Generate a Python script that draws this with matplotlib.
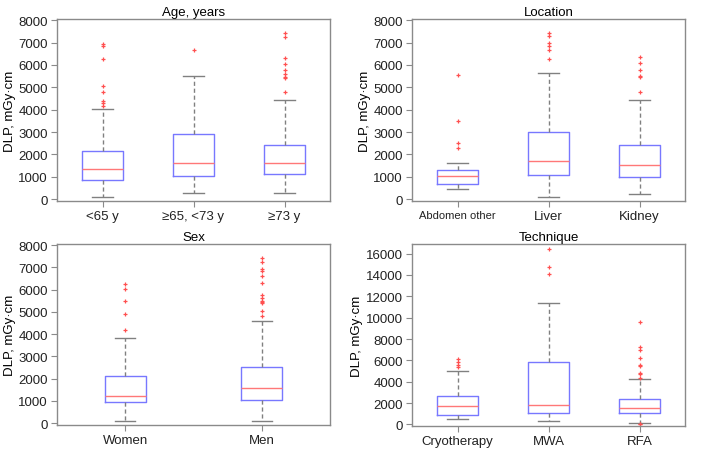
import matplotlib
matplotlib.use("Agg")
import matplotlib.pyplot as plt

plt.rcParams['font.family'] = ['Liberation Sans', 'DejaVu Sans']

# ---- Data ----
age_labels = ["<65 y", "\u226565, <73 y", "\u226573 y"]
age_q1 = [863, 1057, 1116]
age_med = [1369, 1607, 1607]
age_q3 = [2143, 2917, 2440]
age_lo = [89, 268, 268]
age_hi = [4018, 5521, 4449]
age_fliers = [
    [6950, 6850, 6250, 5050, 4780, 4380, 4300, 4180],
    [6650],
    [7440, 7232, 6310, 6057, 5774, 5610, 5476, 5402, 4807],
]

loc_labels = ["Abdomen other", "Liver", "Kidney"]
loc_q1 = [699, 1071, 982]
loc_med = [1042, 1696, 1518]
loc_q3 = [1324, 2991, 2426]
loc_lo = [446, 89, 223]
loc_hi = [1607, 5625, 4435]
loc_fliers = [
    [5536, 3482, 2500, 2292],
    [7440, 7277, 6994, 6845, 6667, 6280],
    [6339, 6071, 5789, 5521, 5476, 4807],
]

sex_labels = ["Women", "Men"]
sex_q1 = [963, 1052]
sex_med = [1244, 1600]
sex_q3 = [2133, 2519]
sex_lo = [104, 119]
sex_hi = [3850, 4607]
sex_fliers = [
    [6252, 6044, 5496, 4904, 4207],
    [7407, 7244, 6948, 6815, 6622, 6296, 5763, 5644, 5511, 5452, 5393, 5037, 4800],
]

tech_labels = ["Cryotherapy", "MWA", "RFA"]
tech_q1 = [840, 1027, 1027]
tech_med = [1681, 1774, 1525]
tech_q3 = [2615, 5852, 2335]
tech_lo = [467, 311, 125]
tech_hi = [5043, 11331, 4233]
tech_fliers = [
    [6101, 5852, 5541, 5416],
    [16436, 14755, 14101],
    [9619, 7253, 6973, 6257, 5603, 5447, 4856, 4731, 4389, 60, 30],
]

BOX_C = "#7878ff"
MED_C = "#ff7878"
WH_C = "#808080"
SPINE_C = "#8a8a8a"


def draw(ax, title, labels, q1, med, q3, lo, hi, fl, width, ylim, yticks, lab_fs=None):
    stats = []
    for i in range(len(labels)):
        stats.append(dict(med=med[i], q1=q1[i], q3=q3[i], whislo=lo[i], whishi=hi[i],
                          fliers=fl[i], label=labels[i]))
    ax.bxp(stats, positions=list(range(1, len(labels) + 1)), widths=width,
           showfliers=True,
           boxprops=dict(color=BOX_C, linewidth=1.0),
           medianprops=dict(color=MED_C, linewidth=1.0),
           whiskerprops=dict(color=WH_C, linestyle=(0, (3, 2)), linewidth=1.0),
           capprops=dict(color=WH_C, linewidth=1.0),
           capwidths=width / 2,
           flierprops=dict(marker='+', markeredgecolor='#ff5050', markersize=3.5,
                           markeredgewidth=0.9, linestyle='none'))
    ax.set_xlim(0.5, len(labels) + 0.5)
    ax.set_ylim(*ylim)
    ax.set_yticks(yticks)
    ax.set_title(title, fontsize=9.5, pad=3)
    ax.set_ylabel("DLP, mGy\u00b7cm", fontsize=9.5, labelpad=2)
    for s in ax.spines.values():
        s.set_color(SPINE_C)
        s.set_linewidth(1.0)
    ax.tick_params(axis='both', colors=SPINE_C, labelcolor='#222222', labelsize=9.5,
                   length=4, direction='out', pad=2.5)
    if lab_fs is not None:
        ax.get_xticklabels()[0].set_fontsize(lab_fs)


fig = plt.figure(figsize=(7.11, 4.52), dpi=100)
W, H = 711, 452
ax1 = fig.add_axes([57 / W, 1 - 202 / H, 273 / W, 182 / H])
ax2 = fig.add_axes([412 / W, 1 - 202 / H, 273 / W, 182 / H])
ax3 = fig.add_axes([57 / W, 1 - 426 / H, 273 / W, 181 / H])
ax4 = fig.add_axes([412 / W, 1 - 427 / H, 273 / W, 182 / H])

ylim8 = (-80, 8050)
t8 = list(range(0, 8001, 1000))
draw(ax1, "Age, years", age_labels, age_q1, age_med, age_q3, age_lo, age_hi, age_fliers,
     0.45, ylim8, t8)
draw(ax2, "Location", loc_labels, loc_q1, loc_med, loc_q3, loc_lo, loc_hi, loc_fliers,
     0.45, ylim8, t8, lab_fs=8)
draw(ax3, "Sex", sex_labels, sex_q1, sex_med, sex_q3, sex_lo, sex_hi, sex_fliers,
     0.3, ylim8, t8)
draw(ax4, "Technique", tech_labels, tech_q1, tech_med, tech_q3, tech_lo, tech_hi, tech_fliers,
     0.45, (-150, 16900), list(range(0, 16001, 2000)))

fig.savefig("out.png", dpi=100)
